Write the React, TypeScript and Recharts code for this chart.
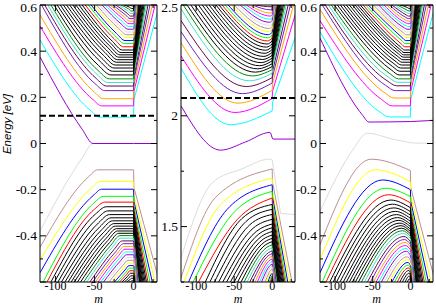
import React from 'react';
import { LineChart, Line, XAxis, YAxis, ReferenceLine } from 'recharts';

type Pt = [number, number];

// xmgrace colour cycle as it shows up in the figure (10 blacks in a row)
const palette = [
  '#000000', '#ff0000', '#00ff00', '#0000ff', '#ffff00', '#bc8f8f', '#dcdcdc', '#9400d3',
  '#00ffff', '#ff00ff', '#ffa500', '#7221bc', '#670748', '#40e0d0', '#008b00',
  '#000000', '#000000', '#000000', '#000000', '#000000', '#000000', '#000000', '#000000', '#000000',
];

// axes
const xTicks = [-100, -75, -50, -25, 0, 25];
const xLabels = [-100, -50, 0];
const evTicks = [-0.6, -0.5, -0.4, -0.3, -0.2, -0.1, 0, 0.1, 0.2, 0.3, 0.4, 0.5, 0.6];
const evMajor = [-0.6, -0.4, -0.2, 0, 0.2, 0.4, 0.6];
const evLabels = [0.6, 0.4, 0.2, 0, -0.2, -0.4];
const midTicks = [1.25, 1.5, 1.75, 2, 2.25, 2.5];
const midMajor = [1.5, 2, 2.5];
const midLabels = [2.5, 2, 1.5];

// Fermi level markers
const p1Fermi = 0.12;
const p2Fermi = 2.08;

// ---------- panel 1 ----------
const p1ZeroUp: Pt[] = [[-120, 0.375], [-66, 0.062], [-52, 0], [0, 0]];
const p1ZeroDown: Pt[] = [[-120, -0.38], [-66, -0.063], [-52, 0], [0, 0]];
const p1ZeroRight: Pt[] = [[0, 0], [30, 0]];

const p1UpFlat = [0.114, 0.163, 0.194, 0.229, 0.249, 0.264, 0.28, 0.297, 0.313, 0.327, 0.34, 0.352, 0.363, 0.374, 0.384, 0.394, 0.405, 0.419, 0.433, 0.446, 0.459, 0.471, 0.483, 0.495, 0.507, 0.519, 0.53, 0.541, 0.552, 0.563, 0.574, 0.585, 0.596];
const p1UpStart: Pt[] = [[-120, 0.448], [-120, 0.509], [-120, 0.557], [-118, 0.6], [-114, 0.6], [-110, 0.6], [-106, 0.6], [-102, 0.6], [-98, 0.6], [-94, 0.6], [-90, 0.6], [-86, 0.6], [-82, 0.6], [-78, 0.6], [-74, 0.6], [-70, 0.6], [-66, 0.6], [-62, 0.6], [-58, 0.6], [-54.5, 0.6], [-51, 0.6], [-47.5, 0.6], [-44, 0.6], [-40.5, 0.6], [-37, 0.6], [-33.5, 0.6], [-30, 0.6], [-26.5, 0.6], [-23, 0.6], [-19.5, 0.6], [-16, 0.6], [-12.5, 0.6], [-9, 0.6]];
const p1UpKnee: Pt[] = [[-56, 0.145], [-52, 0.19], [-50, 0.222], [-49, 0.258], [-48, 0.282], [-47, 0.3], [-46, 0.318], [-45, 0.338], [-43, 0.356], [-41, 0.37], [-39, 0.383], [-37, 0.395], [-35, 0.405], [-33, 0.415], [-31, 0.424], [-29, 0.433], [-27, 0.442], [-25, 0.454], [-23.5, 0.466], [-22, 0.477], [-20.5, 0.488], [-19, 0.498], [-17.5, 0.508], [-16, 0.518], [-14.5, 0.528], [-13, 0.538], [-11.5, 0.547], [-10, 0.556], [-8.5, 0.565], [-7.5, 0.574], [-6.5, 0.583], [-5.5, 0.591], [-5, 0.599]];
const p1UpTurn = [-43, -41, -39, -37, -35, -33, -31, -29, -27, -25, -23.5, -22, -20.5, -19, -17.5, -16, -14.5, -13, -12, -11, -10, -9, -8, -7.2, -6.5, -5.8, -5.2, -4.6, -4, -3.5, -3, -2.5, -2];

const p1DownFlat = [-0.114, -0.164, -0.198, -0.229, -0.254, -0.274, -0.292, -0.308, -0.322, -0.335, -0.347, -0.358, -0.369, -0.379, -0.389, -0.399, -0.41, -0.422, -0.434, -0.446, -0.458, -0.47, -0.482, -0.494, -0.506, -0.518, -0.529, -0.54, -0.551, -0.562, -0.573, -0.584, -0.595];
const p1DownStart: Pt[] = [[-120, -0.45], [-120, -0.505], [-120, -0.56], [-116, -0.6], [-111, -0.6], [-106, -0.6], [-101.5, -0.6], [-97, -0.6], [-92.5, -0.6], [-88, -0.6], [-84, -0.6], [-80, -0.6], [-76, -0.6], [-72, -0.6], [-68, -0.6], [-64, -0.6], [-60, -0.6], [-56, -0.6], [-52.5, -0.6], [-49, -0.6], [-45.5, -0.6], [-42, -0.6], [-38.5, -0.6], [-35, -0.6], [-31.5, -0.6], [-28, -0.6], [-24.5, -0.6], [-21, -0.6], [-18, -0.6], [-15, -0.6], [-12, -0.6], [-9, -0.6], [-6, -0.6]];
const p1DownKnee: Pt[] = [[-58, -0.145], [-54, -0.193], [-52, -0.226], [-51, -0.258], [-50, -0.284], [-49, -0.306], [-47, -0.326], [-45, -0.344], [-43, -0.36], [-41, -0.374], [-39, -0.387], [-37, -0.399], [-35, -0.41], [-33, -0.42], [-31, -0.43], [-29, -0.44], [-27, -0.449], [-25, -0.459], [-23, -0.469], [-21.5, -0.479], [-20, -0.489], [-18.5, -0.499], [-17, -0.509], [-15.5, -0.519], [-14, -0.529], [-12.5, -0.539], [-11, -0.548], [-9.5, -0.557], [-8.5, -0.566], [-7.5, -0.575], [-6.5, -0.584], [-5.5, -0.592], [-4, -0.599]];
const p1DownTurn = [-46, -43, -41, -39, -37, -35, -33, -31, -29, -27, -25, -23.5, -22, -20.5, -19, -17.5, -16, -14.5, -13, -12, -11, -10, -9, -8, -7.2, -6.5, -5.8, -5.2, -4.6, -4, -3.4, -2.8, -2.2];

// right-hand edge branches (panels 1 and 3)
const upKick = [0.19, 0.225, 0.25, 0.275, 0.29, 0.305, 0.318, 0.33, 0.342, 0.352, 0.362, 0.372, 0.381, 0.39, 0.399, 0.407, 0.416, 0.427, 0.44, 0.452, 0.464, 0.476, 0.487, 0.499, 0.511, 0.523, 0.534, 0.545, 0.556, 0.567, 0.578, 0.589, 0.599];
const downKick = [-0.19, -0.225, -0.25, -0.272, -0.29, -0.306, -0.32, -0.333, -0.345, -0.356, -0.366, -0.376, -0.385, -0.394, -0.403, -0.412, -0.422, -0.432, -0.443, -0.454, -0.465, -0.476, -0.487, -0.498, -0.51, -0.522, -0.533, -0.544, -0.555, -0.566, -0.577, -0.588, -0.598];
const wedgeEnd = [33, 27.5, 24, 21, 18.5, 16.5, 14.8, 13.3, 12, 10.9, 9.9, 9, 8.2, 7.5, 6.9, 6.3, 5.8, 5.3, 4.9, 4.5, 4.1, 3.7, 3.4, 3.1, 2.8, 2.5, 2.2, 1.9, 1.6, 1.4, 1.2, 1.0, 0.8];

// ---------- panel 2 ----------
const p2ZeroUp: Pt[] = [[-120, 2.045], [-68, 1.845], [-35, 1.882], [-3, 1.925], [0, 1.9]];
const p2ZeroUpRight: Pt[] = [[0, 1.9], [1, 1.895], [30, 1.895]];
const p2ZeroDown: Pt[] = [[-120, 1.359], [-79, 1.697], [-40, 1.76], [-3, 1.805], [0, 1.8]];
const p2ZeroDownRight: Pt[] = [[0, 1.8], [11, 1.56], [30, 1.554]];

const p2UpStart: Pt[] = [[-120, 2.215], [-120, 2.27], [-120, 2.33], [-120, 2.38], [-120, 2.43], [-120, 2.483], [-117, 2.5], [-112, 2.5], [-107, 2.5], [-102, 2.5], [-97, 2.5], [-92, 2.5], [-87.5, 2.5], [-83, 2.5], [-78.5, 2.5], [-74, 2.5], [-70, 2.5], [-66, 2.5], [-62, 2.5], [-58, 2.5], [-54, 2.5], [-50, 2.5], [-46, 2.5], [-42, 2.5], [-38, 2.5], [-34, 2.5], [-30, 2.5], [-26, 2.5], [-22, 2.5]];
const p2UpMin: Pt[] = [[-55, 1.96], [-49, 2.015], [-45, 2.057], [-39, 2.1], [-34, 2.132], [-30, 2.158], [-26, 2.18], [-22, 2.197], [-19, 2.212], [-16.5, 2.226], [-14.5, 2.24], [-12.5, 2.254], [-11, 2.268], [-9.5, 2.282], [-8.5, 2.296], [-7.5, 2.31], [-6.5, 2.324], [-6, 2.338], [-5.5, 2.352], [-5, 2.366], [-4.5, 2.38], [-4, 2.394], [-3.6, 2.408], [-3.2, 2.422], [-2.8, 2.436], [-2.4, 2.45], [-2, 2.464], [-1.6, 2.478], [-1.2, 2.492]];
const p2UpEdge = [2.022, 2.078, 2.115, 2.148, 2.172, 2.192, 2.208, 2.222, 2.235, 2.248, 2.26, 2.273, 2.286, 2.299, 2.312, 2.325, 2.338, 2.351, 2.364, 2.377, 2.39, 2.403, 2.416, 2.43, 2.443, 2.456, 2.47, 2.484, 2.497];
const p2UpKick = [2.06, 2.11, 2.145, 2.175, 2.2, 2.22, 2.237, 2.252, 2.265, 2.278, 2.29, 2.302, 2.314, 2.326, 2.338, 2.35, 2.362, 2.374, 2.386, 2.398, 2.41, 2.422, 2.434, 2.446, 2.458, 2.47, 2.482, 2.494, 2.5];
const p2UpEnd = [45, 34, 28, 24, 21, 18.5, 16.5, 14.8, 13.3, 12, 10.9, 9.9, 9, 8.2, 7.5, 6.8, 6.2, 5.6, 5.1, 4.6, 4.1, 3.7, 3.3, 2.9, 2.5, 2.1, 1.7, 1.3, 1.0];

const p2DownStart: Pt[] = [[-120, 1.269], [-116, 1.25], [-110, 1.25], [-104, 1.25], [-97, 1.25], [-88, 1.25], [-82, 1.25], [-76, 1.25], [-70.5, 1.25], [-65, 1.25], [-60, 1.25], [-55, 1.25], [-50, 1.25], [-45.5, 1.25], [-41, 1.25], [-37, 1.25], [-33, 1.25], [-29.5, 1.25], [-26, 1.25], [-22.5, 1.25], [-19.5, 1.25], [-16.5, 1.25], [-14, 1.25], [-11.5, 1.25], [-9.2, 1.25], [-7.2, 1.25], [-5.5, 1.25], [-4, 1.25], [-2.7, 1.25], [-1.5, 1.25]];
const p2DownKnee: Pt[] = [[-75, 1.63], [-68, 1.599], [-59.5, 1.577], [-53, 1.554], [-46, 1.532], [-40, 1.536], [-34.5, 1.523], [-29.5, 1.508], [-25, 1.493], [-21, 1.478], [-17.5, 1.467], [-14.5, 1.455], [-12, 1.443], [-10, 1.431], [-8.3, 1.419], [-6.9, 1.407], [-5.7, 1.395], [-4.7, 1.383], [-3.9, 1.372], [-3.2, 1.361], [-2.6, 1.35], [-2.1, 1.339], [-1.7, 1.328], [-1.35, 1.318], [-1.05, 1.307], [-0.8, 1.298], [-0.6, 1.288], [-0.4, 1.278], [-0.25, 1.269], [-0.15, 1.26]];
const p2DownEdge = [1.76, 1.719, 1.689, 1.659, 1.629, 1.6, 1.578, 1.555, 1.533, 1.512, 1.495, 1.478, 1.462, 1.447, 1.432, 1.418, 1.404, 1.391, 1.378, 1.366, 1.354, 1.342, 1.331, 1.32, 1.309, 1.299, 1.289, 1.279, 1.27, 1.261];
const p2DownKick = [1.7, 1.66, 1.635, 1.61, 1.585, 1.56, 1.54, 1.52, 1.5, 1.482, 1.466, 1.45, 1.436, 1.422, 1.408, 1.395, 1.382, 1.37, 1.358, 1.347, 1.336, 1.325, 1.315, 1.305, 1.295, 1.286, 1.277, 1.268, 1.26, 1.252];
const p2DownEnd = [26, 23, 20.5, 18.5, 16.8, 15.3, 14, 12.8, 11.7, 10.7, 9.8, 9, 8.2, 7.5, 6.8, 6.2, 5.6, 5, 4.5, 4, 3.5, 3.1, 2.7, 2.3, 1.9, 1.6, 1.3, 1, 0.8, 0.6];

// ---------- panel 3 ----------
const p3ZeroUp: Pt[] = [[-120, 0.457], [-64, 0.125], [-55, 0.093], [0, 0.095]];
const p3ZeroUpRight: Pt[] = [[0, 0.095], [30, 0.1]];
const p3ZeroDown: Pt[] = [[-120, -0.295], [-77, -0.03], [-57, 0.045], [-25, 0.02], [0, 0.003]];
const p3ZeroDownRight: Pt[] = [[0, 0.003], [30, 0]];

const p3UpFlat = [0.115, 0.163, 0.197, 0.229, 0.25, 0.265, 0.28, 0.297, 0.313, 0.327, 0.34, 0.352, 0.363, 0.374, 0.384, 0.394, 0.405, 0.419, 0.433, 0.446, 0.459, 0.471, 0.483, 0.495, 0.507, 0.519, 0.53, 0.541, 0.552, 0.563, 0.574, 0.585, 0.596];
const p3UpStart: Pt[] = [[-120, 0.484], [-120, 0.532], [-120, 0.581], [-117, 0.6], [-113, 0.6], [-109, 0.6], [-105, 0.6], [-101, 0.6], [-97, 0.6], [-93, 0.6], [-89, 0.6], [-85, 0.6], [-81, 0.6], [-77, 0.6], [-73.5, 0.6], [-70, 0.6], [-66.5, 0.6], [-63, 0.6], [-59.5, 0.6], [-56, 0.6], [-52.5, 0.6], [-49, 0.6], [-45.5, 0.6], [-42, 0.6], [-38.5, 0.6], [-35, 0.6], [-31.5, 0.6], [-28, 0.6], [-24.5, 0.6], [-21, 0.6], [-17.5, 0.6], [-14, 0.6], [-10.5, 0.6]];
const p3UpKnee: Pt[] = [[-42, 0.14], [-38, 0.19], [-35, 0.222], [-33, 0.252], [-31, 0.272], [-29, 0.287], [-27, 0.302], [-25, 0.318], [-23.5, 0.333], [-22, 0.346], [-20.5, 0.358], [-19, 0.369], [-17.5, 0.379], [-16, 0.389], [-15, 0.399], [-14, 0.408], [-13, 0.418], [-12, 0.431], [-11, 0.444], [-10, 0.456], [-9.5, 0.468], [-9, 0.479], [-8.5, 0.49], [-8, 0.501], [-7.5, 0.513], [-7, 0.524], [-6.5, 0.535], [-6, 0.546], [-5.5, 0.557], [-5, 0.567], [-4.5, 0.578], [-4, 0.589], [-3.5, 0.598]];
const p3UpTurn = [-28, -24, -22, -20, -18.5, -17, -16, -15, -14, -13, -12, -11, -10, -9.5, -9, -8.5, -8, -7.5, -7, -6.5, -6, -5.5, -5, -4.5, -4, -3.5, -3.2, -2.9, -2.6, -2.3, -2, -1.7, -1.4];

const p3DownStart: Pt[] = [[-120, -0.439], [-120, -0.504], [-120, -0.56], [-117, -0.6], [-112, -0.6], [-107, -0.6], [-102.5, -0.6], [-98, -0.6], [-93.5, -0.6], [-89, -0.6], [-85, -0.6], [-81, -0.6], [-77, -0.6], [-73, -0.6], [-69, -0.6], [-65, -0.6], [-61, -0.6], [-57, -0.6], [-53, -0.6], [-49, -0.6], [-45.5, -0.6], [-42, -0.6], [-38.5, -0.6], [-35, -0.6], [-31.5, -0.6], [-28, -0.6], [-24.5, -0.6], [-21, -0.6], [-17.5, -0.6], [-14, -0.6], [-10.5, -0.6], [-7, -0.6], [-4, -0.6]];
const p3DownPeak: Pt[] = [[-52, -0.068], [-46, -0.114], [-37, -0.158], [-33, -0.194], [-29, -0.222], [-26, -0.245], [-24, -0.263], [-22, -0.279], [-20, -0.294], [-18.5, -0.308], [-17, -0.321], [-15.5, -0.333], [-14, -0.345], [-12.5, -0.356], [-11.5, -0.367], [-10.5, -0.378], [-9.5, -0.39], [-8.5, -0.403], [-7.8, -0.416], [-7, -0.429], [-6.4, -0.442], [-5.8, -0.455], [-5.2, -0.467], [-4.7, -0.479], [-4.2, -0.491], [-3.7, -0.503], [-3.3, -0.515], [-2.9, -0.527], [-2.5, -0.539], [-2.1, -0.55], [-1.8, -0.562], [-1.5, -0.574], [-1.2, -0.586]];
const p3DownEdge = [-0.117, -0.165, -0.2, -0.23, -0.257, -0.278, -0.295, -0.31, -0.324, -0.337, -0.349, -0.36, -0.371, -0.381, -0.391, -0.401, -0.412, -0.424, -0.436, -0.448, -0.46, -0.472, -0.484, -0.495, -0.506, -0.517, -0.528, -0.539, -0.55, -0.561, -0.572, -0.583, -0.594];

// ---------- series assembly ----------
interface Series { id: string; color: string; left: Pt[]; right: Pt[] }

const colorAt = (i: number) => palette[((i % 24) + 24) % 24];

function flatFan(tag: string, base: number, dir: number, start: Pt[], knee: Pt[], turn: number[], flat: number[], kick: number[], end: number[], edge: number): Series[] {
  return flat.map((e, i) => ({
    id: `${tag}${i}`,
    color: colorAt(base + dir * (i + 1)),
    left: [start[i], knee[i], [turn[i], e], [0, e]],
    right: [[0, e], [0.4, kick[i]], [end[i], edge]],
  }));
}

function humpFan(tag: string, base: number, dir: number, start: Pt[], mid: Pt[], atZero: number[], kick: number[], end: number[], edge: number): Series[] {
  return atZero.map((e, i) => ({
    id: `${tag}${i}`,
    color: colorAt(base + dir * (i + 1)),
    left: [start[i], mid[i], [0, e]],
    right: [[0, e], [0.4, kick[i]], [end[i], edge]],
  }));
}

const panel1: Series[] = [
  { id: 'p1d0', color: colorAt(6), left: p1ZeroDown, right: p1ZeroRight },
  ...flatFan('p1d', 6, -1, p1DownStart, p1DownKnee, p1DownTurn, p1DownFlat, downKick, wedgeEnd, -0.6),
  { id: 'p1u0', color: colorAt(7), left: p1ZeroUp, right: p1ZeroRight },
  ...flatFan('p1u', 7, 1, p1UpStart, p1UpKnee, p1UpTurn, p1UpFlat, upKick, wedgeEnd, 0.6),
];

const panel2: Series[] = [
  { id: 'p2d0', color: colorAt(6), left: p2ZeroDown, right: p2ZeroDownRight },
  ...humpFan('p2d', 6, -1, p2DownStart, p2DownKnee, p2DownEdge, p2DownKick, p2DownEnd, 1.25),
  { id: 'p2u0', color: colorAt(7), left: p2ZeroUp, right: p2ZeroUpRight },
  ...humpFan('p2u', 7, 1, p2UpStart, p2UpMin, p2UpEdge, p2UpKick, p2UpEnd, 2.5),
];

const panel3: Series[] = [
  { id: 'p3d0', color: colorAt(6), left: p3ZeroDown, right: p3ZeroDownRight },
  ...humpFan('p3d', 6, -1, p3DownStart, p3DownPeak, p3DownEdge, downKick, wedgeEnd, -0.6),
  { id: 'p3u0', color: colorAt(7), left: p3ZeroUp, right: p3ZeroUpRight },
  ...flatFan('p3u', 7, 1, p3UpStart, p3UpKnee, p3UpTurn, p3UpFlat, upKick, wedgeEnd, 0.6),
];

// ---------- drawing ----------
const TOP = 5;
const BOTTOM = 282;
const serif = '"Liberation Serif", "Times New Roman", serif';
const near = (v: number, list: number[]) => list.some((a) => Math.abs(a - v) < 1e-6);
const rows = (pts: Pt[]) => pts.map(([m, e]) => ({ m, e }));

const Caption = (props: { px: number; py: number; text: string; rotate?: boolean; sans?: boolean; size: number }) => (
  <text
    x={props.rotate ? 0 : props.px}
    y={props.rotate ? 0 : props.py}
    transform={props.rotate ? `translate(${props.px},${props.py}) rotate(-90)` : undefined}
    textAnchor="middle"
    fontStyle="italic"
    fontSize={props.size}
    fontFamily={props.sans ? '"Liberation Sans", Arial, sans-serif' : serif}
    fill="#000"
  >
    {props.text}
  </text>
);

interface PanelProps {
  left: number;
  width: number;
  axisWidth: number;
  domain: [number, number];
  ticks: number[];
  major: number[];
  labels: number[];
  series: Series[];
  fermi?: number;
  title?: boolean;
}

function Panel(p: PanelProps) {
  const x0 = p.axisWidth;
  const x1 = p.width - 3;

  const xTick = (props: any) => {
    const { x, payload } = props;
    const v = payload.value as number;
    const big = near(v, xLabels);
    const len = big ? 6 : 3;
    return (
      <g>
        <line x1={x} x2={x} y1={BOTTOM} y2={BOTTOM - len} stroke="#000" />
        <line x1={x} x2={x} y1={TOP} y2={TOP + len} stroke="#000" />
        {big && (
          <text x={x} y={290.3} textAnchor="middle" fontFamily={serif} fontSize={12} fill="#000">
            {String(v)}
          </text>
        )}
      </g>
    );
  };

  const yTick = (props: any) => {
    const { y, payload } = props;
    const v = payload.value as number;
    const len = near(v, p.major) ? 6 : 3;
    return (
      <g>
        <line x1={x0} x2={x0 + len} y1={y} y2={y} stroke="#000" />
        <line x1={x1} x2={x1 - len} y1={y} y2={y} stroke="#000" />
        {near(v, p.labels) && (
          <text x={x0 - 3} y={Math.max(y + 4.5, 12)} textAnchor="end" fontFamily={serif} fontSize={13.5} fill="#000">
            {String(v)}
          </text>
        )}
      </g>
    );
  };

  return (
    <div style={{ position: 'absolute', left: p.left, top: 0 }}>
      <LineChart width={p.width} height={305} margin={{ top: TOP, right: 3, bottom: 0, left: 0 }}>
        <XAxis
          type="number"
          dataKey="m"
          domain={[-120, 30]}
          allowDataOverflow
          ticks={xTicks}
          interval={0}
          tickLine={false}
          axisLine={{ stroke: '#000' }}
          height={305 - BOTTOM}
          tick={xTick}
          label={<Caption px={(x0 + x1) / 2} py={303.3} text="m" size={12} />}
        />
        <YAxis
          type="number"
          domain={p.domain}
          allowDataOverflow
          ticks={p.ticks}
          interval={0}
          tickLine={false}
          axisLine={{ stroke: '#000' }}
          width={p.axisWidth}
          tick={yTick}
          label={p.title ? <Caption px={11} py={124} text="Energy [eV]" rotate sans size={11.5} /> : undefined}
        />
        {p.series.map((s) => (
          <Line
            key={s.id + 'l'}
            data={rows(s.left)}
            dataKey="e"
            type="monotone"
            stroke={s.color}
            strokeWidth={1}
            dot={false}
            activeDot={false}
            isAnimationActive={false}
          />
        ))}
        {p.series.map((s) => (
          <Line
            key={s.id + 'r'}
            data={rows(s.right)}
            dataKey="e"
            type="linear"
            stroke={s.color}
            strokeWidth={1}
            dot={false}
            activeDot={false}
            isAnimationActive={false}
          />
        ))}
        <ReferenceLine x={30} stroke="#000" />
        <ReferenceLine y={p.domain[1]} stroke="#000" />
        {p.fermi !== undefined && (
          <ReferenceLine y={p.fermi} stroke="#000" strokeWidth={2} strokeDasharray="6 3" />
        )}
      </LineChart>
    </div>
  );
}

export default function App() {
  return (
    <div style={{ position: 'absolute', left: 0, top: 0, width: 436, height: 305, background: '#fff', overflow: 'hidden' }}>
      <Panel left={0} width={160} axisWidth={40} domain={[-0.6, 0.6]} ticks={evTicks} major={evMajor} labels={evLabels} series={panel1} fermi={p1Fermi} title />
      <Panel left={150} width={148} axisWidth={31} domain={[1.25, 2.5]} ticks={midTicks} major={midMajor} labels={midLabels} series={panel2} fermi={p2Fermi} />
      <Panel left={288} width={148} axisWidth={32} domain={[-0.6, 0.6]} ticks={evTicks} major={evMajor} labels={evLabels} series={panel3} />
    </div>
  );
}
